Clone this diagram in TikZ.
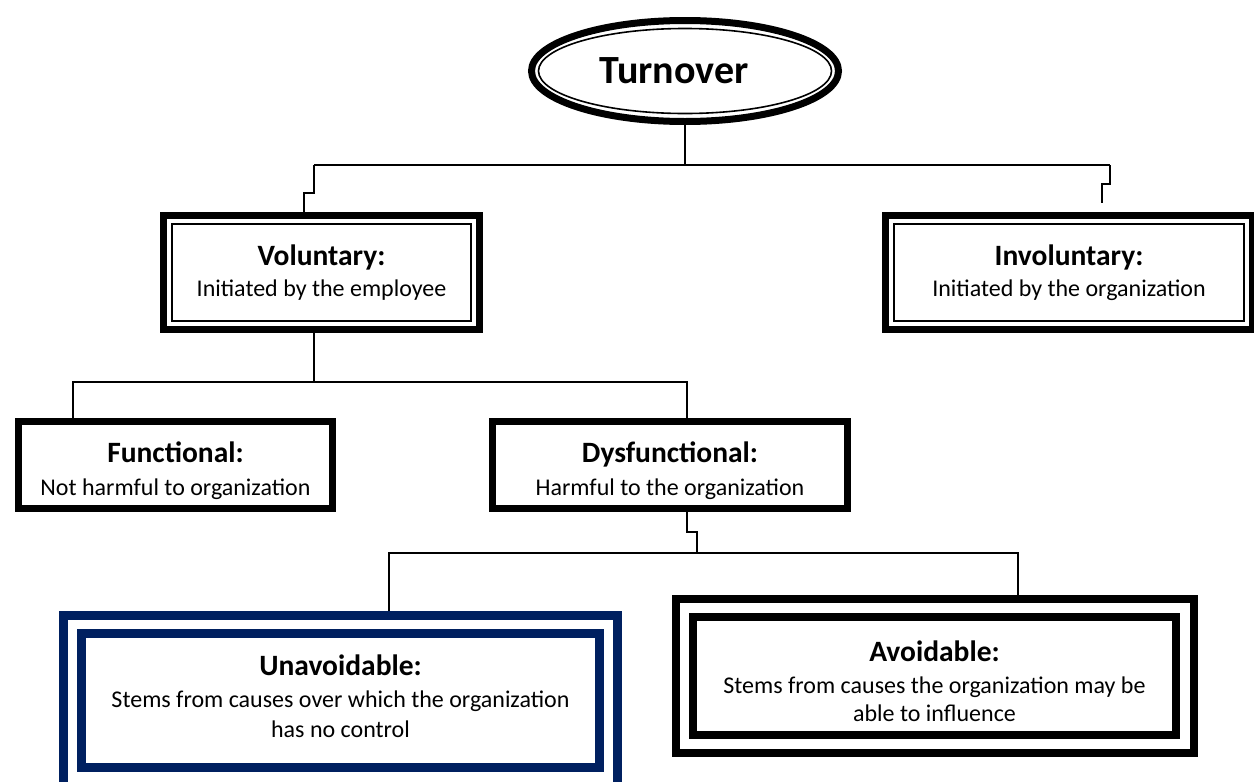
\documentclass[tikz,border=0pt]{standalone}
\usepackage{fontspec}
\setmainfont{Carlito}
\usetikzlibrary{shapes.geometric}
\definecolor{navy}{HTML}{002060}
\newcommand\hd{\fontsize{29.5}{32}\selectfont\bfseries}
\newcommand\topstrut[1]{\rule{0pt}{#1}}
\newcommand\botstrut[1]{\rule[-#1]{0pt}{0pt}}
\begin{document}
\begin{tikzpicture}[x=1pt,y=-1pt,
  conn/.style={draw=black,line width=1.5pt},
  txt/.style={align=center,font=\fontsize{24}{30}\selectfont,inner sep=0pt},
  sbox/.style={txt,rectangle,draw=black,line width=7pt,outer sep=3.5pt},
  dbox/.style={sbox,path picture={\draw[line width=1.6pt]
     ([shift={(8.5,8.5)}]path picture bounding box.north west) rectangle
     ([shift={(-8.5,-8.5)}]path picture bounding box.south east);}},
  tbox/.style={txt,rectangle,line width=8.5pt,outer sep=4.25pt},
]
\useasboundingbox (0,0) rectangle (1254,782);

% title ellipse
\node[ellipse,draw=black,line width=7pt,outer sep=3.5pt,inner sep=0pt,
  minimum width=307pt,minimum height=101pt,
  font=\fontsize{40}{44}\selectfont\bfseries,
  path picture={\draw[line width=1.6pt] (path picture bounding box.center)
     ellipse [x radius=146.5pt,y radius=42.5pt];}]
  (turn) at (685,71) {Turnover\hspace*{22pt}};

% second level
\node[dbox,minimum width=316pt,minimum height=114pt] (vol) at (321.5,272.5)
  {{\hd Voluntary:}\\[1pt]Initiated by the employee};
\node[dbox,minimum width=367pt,minimum height=114pt] (invol) at (1069,272.5)
  {{\hd Involuntary:}\\[1pt]Initiated by the organization};

% third level
\node[sbox,minimum width=314pt,minimum height=87pt] (fun) at (175.5,465)
  {{\hd\topstrut{32pt}Functional:}\\[3pt]Not harmful to organization};
\node[sbox,minimum width=355pt,minimum height=87pt] (dys) at (670,465)
  {{\hd\topstrut{32pt}Dysfunctional:}\\[3pt]Harmful to the organization};

% fourth level
\node[tbox,draw=navy,minimum width=554pt,minimum height=171pt] (unaout) at (340.5,701) {};
\node[tbox,draw=navy,minimum width=518pt,minimum height=134pt] (una) at (340.5,700.5)
  {{\hd Unavoidable:}\\[2pt]Stems from causes over which the organization\\has no control\botstrut{8pt}};
\node[tbox,draw=black,minimum width=518pt,minimum height=154pt] (avoout) at (935,676) {};
\node[tbox,draw=black,minimum width=483pt,minimum height=118pt] (avo) at (934.5,676)
  {{\hd\topstrut{32pt}Avoidable:}\\[2pt]Stems from causes the organization may be\\[-2pt]able to influence};

% connectors
\coordinate (bL) at (314,165);
\coordinate (bR) at (1110,165);
\coordinate (k1) at (304,193);
\coordinate (k2) at (1102,184);
\coordinate (e2) at (1102,203);
\draw[conn] (turn.south) -- (turn.south |- bL);
\draw[conn] (bL) -- (bR);
\draw[conn] (bL) |- (k1) -- (k1 |- vol.north);
\draw[conn] (bR) |- (k2) -- (e2);

\coordinate (b2L) at (73,382);
\coordinate (b2R) at (687,382);
\draw[conn] (vol.south -| bL) -- (bL |- b2L);
\draw[conn] (fun.north -| b2L) |- (b2R) -- (b2R |- dys.north);

\coordinate (k3) at (697,532);
\coordinate (b3L) at (389,553);
\coordinate (b3R) at (1018,553);
\draw[conn] (dys.south -| b2R) |- (k3) -- (k3 |- b3L);
\draw[conn] (unaout.north -| b3L) |- (b3R) -- (b3R |- avoout.north);
\end{tikzpicture}
\end{document}
